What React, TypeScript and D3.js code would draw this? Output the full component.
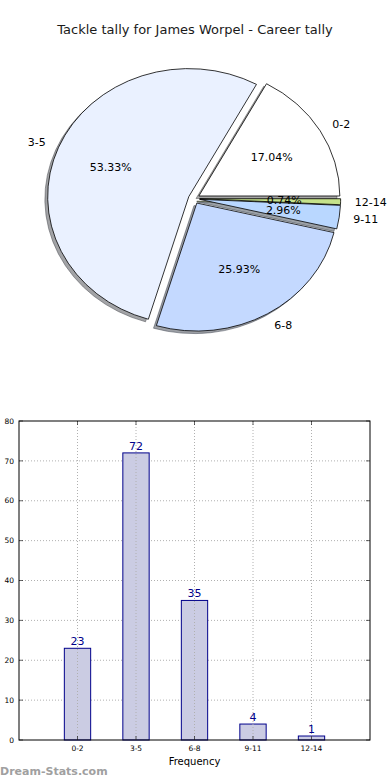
import React, { useEffect, useRef } from 'react';
import * as d3 from 'd3';

const title = "Tackle tally for James Worpel - Career tally";
const categories = ["0-2", "3-5", "6-8", "9-11", "12-14"];
const counts = [23, 72, 35, 4, 1];
const sliceColors = ["#ffffff", "#eaf1ff", "#c4d9ff", "#b9d7ff", "#c6e28a"];
const yTicks = [0, 10, 20, 30, 40, 50, 60, 70, 80];

const App = () => {
    const svgRef = useRef(null);

    useEffect(() => {
        const svg = d3.select(svgRef.current).html("");
        const font = "DejaVu Sans, sans-serif";

        svg.append("text")
            .attr("x", 195).attr("y", 34)
            .attr("text-anchor", "middle")
            .style("font-family", font).style("font-size", "13px")
            .attr("fill", "#1a1a1a")
            .text(title);

        // pie (elliptical, like matplotlib without equal aspect)
        const cx = 194, cy = 198.6, rx = 141, ry = 128;
        const explode = 0.04;
        const total = d3.sum(counts);
        const pie = d3.pie().sort(null).startAngle(Math.PI / 2).endAngle(Math.PI / 2 - 2 * Math.PI);
        const arcs = pie(counts);
        const arc = d3.arc().innerRadius(0).outerRadius(1);
        const dir = a => {
            const mid = (a.startAngle + a.endAngle) / 2;
            return [Math.sin(mid), -Math.cos(mid)];
        };

        const pieG = svg.append("g");
        // shadows first
        arcs.forEach((a, i) => {
            const [dx, dy] = dir(a);
            const ox = cx + explode * rx * dx - 0.02 * rx;
            const oy = cy + explode * ry * dy + 0.02 * ry;
            const c = d3.rgb(sliceColors[i]);
            const sc = d3.rgb(c.r * 0.3, c.g * 0.3, c.b * 0.3);
            pieG.append("path")
                .attr("d", arc(a))
                .attr("transform", `translate(${ox},${oy}) scale(${rx},${ry})`)
                .attr("fill", sc).attr("fill-opacity", 0.5)
                .attr("stroke", sc).attr("stroke-opacity", 0.5)
                .attr("stroke-width", 1)
                .attr("vector-effect", "non-scaling-stroke");
        });
        arcs.forEach((a, i) => {
            const [dx, dy] = dir(a);
            const ox = cx + explode * rx * dx;
            const oy = cy + explode * ry * dy;
            pieG.append("path")
                .attr("d", arc(a))
                .attr("transform", `translate(${ox},${oy}) scale(${rx},${ry})`)
                .attr("fill", sliceColors[i])
                .attr("stroke", "#000").attr("stroke-width", 0.8)
                .attr("vector-effect", "non-scaling-stroke");
        });
        arcs.forEach((a, i) => {
            const [dx, dy] = dir(a);
            const lx = cx + (explode + 1.1) * rx * dx;
            const ly = cy + (explode + 1.1) * ry * dy;
            pieG.append("text")
                .attr("x", lx).attr("y", ly)
                .attr("dy", "0.35em")
                .attr("text-anchor", dx > 0 ? "start" : "end")
                .style("font-family", font).style("font-size", "11px")
                .attr("fill", "#000")
                .text(categories[i]);
            const px = cx + (explode + 0.6) * rx * dx;
            const py = cy + (explode + 0.6) * ry * dy;
            pieG.append("text")
                .attr("x", px).attr("y", py)
                .attr("dy", "0.35em")
                .attr("text-anchor", "middle")
                .style("font-family", font).style("font-size", "11px")
                .attr("fill", "#000")
                .text((counts[i] / total * 100).toFixed(2) + "%");
        });

        // bar chart
        const left = 19, right = 370, top = 421, bottom = 740;
        const x = d3.scaleLinear().domain([-1, 5]).range([left, right]);
        const y = d3.scaleLinear().domain([0, 80]).range([bottom, top]);
        const barW = 0.45;
        const barG = svg.append("g");

        barG.selectAll(".hgrid")
            .data(yTicks.slice(1, -1))
            .enter().append("line")
            .attr("x1", left).attr("x2", right)
            .attr("y1", d => y(d)).attr("y2", d => y(d))
            .attr("stroke", "#b0b0b0").attr("stroke-width", 1)
            .attr("stroke-dasharray", "1,2");

        barG.selectAll(".bar")
            .data(counts)
            .enter().append("rect")
            .attr("x", (d, i) => x(i - barW / 2))
            .attr("width", x(barW) - x(0))
            .attr("y", d => y(d))
            .attr("height", d => y(0) - y(d))
            .attr("fill", "#cbcce3")
            .attr("stroke", "#00008b").attr("stroke-width", 1);

        barG.selectAll(".vgrid")
            .data(categories)
            .enter().append("line")
            .attr("x1", (d, i) => x(i)).attr("x2", (d, i) => x(i))
            .attr("y1", top).attr("y2", bottom)
            .attr("stroke", "#b0b0b0").attr("stroke-width", 1)
            .attr("stroke-dasharray", "1,2");

        barG.selectAll(".val")
            .data(counts)
            .enter().append("text")
            .attr("x", (d, i) => x(i))
            .attr("y", d => y(d) - 3)
            .attr("text-anchor", "middle")
            .style("font-family", font).style("font-size", "11px")
            .attr("fill", "#00008b")
            .text(d => d);

        // frame
        barG.append("rect")
            .attr("x", left).attr("y", top)
            .attr("width", right - left).attr("height", bottom - top)
            .attr("fill", "none").attr("stroke", "#000").attr("stroke-width", 1);

        // y ticks (inside, both sides)
        yTicks.forEach(t => {
            barG.append("line")
                .attr("x1", left).attr("x2", left + 4)
                .attr("y1", y(t)).attr("y2", y(t))
                .attr("stroke", "#000").attr("stroke-width", 0.6);
            barG.append("line")
                .attr("x1", right - 4).attr("x2", right)
                .attr("y1", y(t)).attr("y2", y(t))
                .attr("stroke", "#000").attr("stroke-width", 0.6);
            barG.append("text")
                .attr("x", left - 5).attr("y", y(t))
                .attr("dy", "0.35em")
                .attr("text-anchor", "end")
                .style("font-family", font).style("font-size", "7.5px")
                .attr("fill", "#000")
                .text(t);
        });

        categories.forEach((c, i) => {
            barG.append("line")
                .attr("x1", x(i)).attr("x2", x(i))
                .attr("y1", bottom).attr("y2", bottom - 4)
                .attr("stroke", "#000").attr("stroke-width", 0.6);
            barG.append("line")
                .attr("x1", x(i)).attr("x2", x(i))
                .attr("y1", top).attr("y2", top + 4)
                .attr("stroke", "#000").attr("stroke-width", 0.6);
            barG.append("text")
                .attr("x", x(i)).attr("y", bottom + 8)
                .attr("dy", "0.35em")
                .attr("text-anchor", "middle")
                .style("font-family", font).style("font-size", "7.5px")
                .attr("fill", "#000")
                .text(c);
        });

        barG.append("text")
            .attr("x", (left + right) / 2).attr("y", 761)
            .attr("dy", "0.35em")
            .attr("text-anchor", "middle")
            .style("font-family", font).style("font-size", "10px")
            .attr("fill", "#000")
            .text("Frequency");

        svg.append("text")
            .attr("x", 0).attr("y", 771)
            .attr("dy", "0.35em")
            .style("font-family", font).style("font-size", "11px")
            .style("font-weight", "bold")
            .attr("fill", "#a0a0a0")
            .text("Dream-Stats.com");
    }, []);

    return (
        <svg ref={svgRef} width={390} height={780}
            style={{ position: "absolute", left: 0, top: 0, background: "#fff" }} />
    );
};

export default App;
